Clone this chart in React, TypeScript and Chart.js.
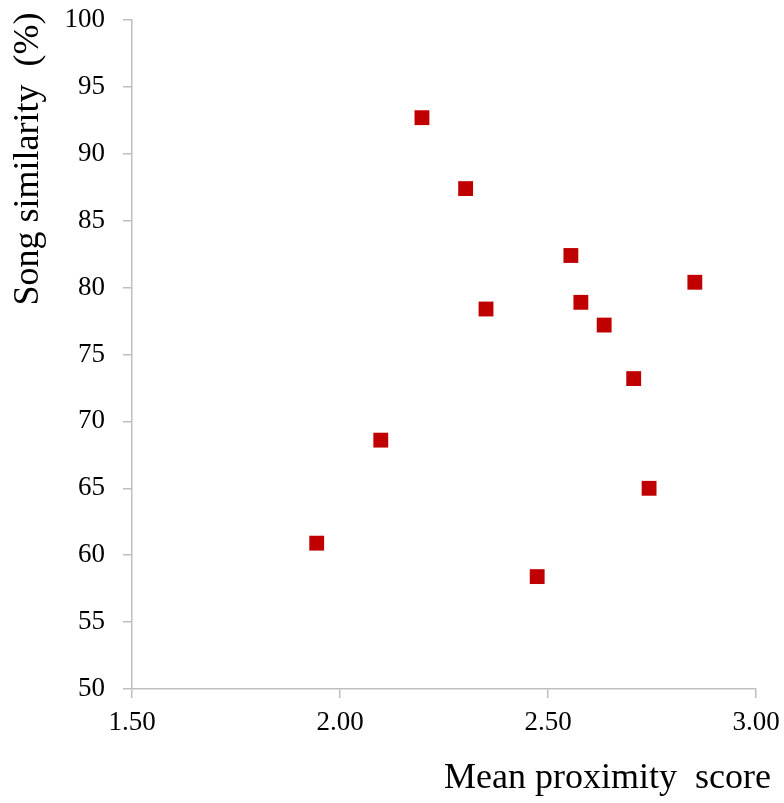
import React, { useEffect, useRef } from "react";
import { Chart, registerables } from "chart.js";

Chart.register(...registerables);

const proximityScores = [2.197, 2.302, 2.351, 2.555, 2.579, 2.635, 2.853, 2.706, 2.743, 2.098, 1.944, 2.474];
const songSimilarity = [92.7, 87.4, 78.4, 82.4, 78.9, 77.2, 80.4, 73.2, 65.0, 68.6, 60.9, 58.4];
const xTitle = "Mean proximity  score";
const yTitle = "Song similarity  (%)";

const FONT = "'Liberation Serif', 'Times New Roman', serif";

const titlesPlugin = {
  id: "customTitles",
  afterDraw(chart: any) {
    const ctx = chart.ctx;
    ctx.save();
    ctx.fillStyle = "#000";
    ctx.font = `36px ${FONT}`;
    ctx.textBaseline = "middle";
    ctx.textAlign = "right";
    ctx.fillText(xTitle, 771, 779);
    ctx.translate(29, 159);
    ctx.rotate(-Math.PI / 2);
    ctx.textAlign = "center";
    ctx.fillText(yTitle, 0, 0);
    ctx.restore();
  },
};

export default function App() {
  const ref = useRef<HTMLCanvasElement>(null);
  useEffect(() => {
    document.body.style.margin = "0";
    const data = proximityScores.map((x, i) => ({ x, y: songSimilarity[i] }));
    const chart = new Chart(ref.current!, {
      type: "scatter",
      data: {
        datasets: [
          {
            data,
            backgroundColor: "#C00000",
            borderColor: "#C00000",
            pointStyle: "rect",
            pointRadius: 10.5,
            pointHoverRadius: 10.5,
            borderWidth: 0,
          },
        ],
      },
      options: {
        animation: false,
        responsive: false,
        layout: { autoPadding: false, padding: { top: 20, right: 28, left: 0, bottom: 0 } },
        plugins: { legend: { display: false }, tooltip: { enabled: false } },
        scales: {
          x: {
            type: "linear",
            min: 1.5,
            max: 3.0,
            afterFit: (s: any) => {
              s.height = 803 - 689;
              s.paddingLeft = 0;
              s.paddingRight = 0;
            },
            ticks: {
              stepSize: 0.5,
              color: "#000",
              padding: 9,
              font: { family: FONT, size: 27 },
              callback: (v: any) => Number(v).toFixed(2),
            },
            grid: { drawOnChartArea: false, drawTicks: true, tickLength: 9, color: "#BFBFBF", lineWidth: 1.5 },
            border: { color: "#BFBFBF", width: 1.5 },
          },
          y: {
            type: "linear",
            min: 50,
            max: 100,
            afterFit: (s: any) => {
              s.width = 132;
              s.paddingTop = 0;
              s.paddingBottom = 0;
            },
            ticks: {
              stepSize: 5,
              color: "#000",
              padding: 18,
              font: { family: FONT, size: 27 },
            },
            grid: { drawOnChartArea: false, drawTicks: true, tickLength: 9, color: "#BFBFBF", lineWidth: 1.5 },
            border: { color: "#BFBFBF", width: 1.5 },
          },
        },
      },
      plugins: [titlesPlugin],
    });
    return () => chart.destroy();
  }, []);
  return (
    <div style={{ position: "absolute", left: 0, top: 0, width: 784, height: 803, background: "#fff" }}>
      <canvas ref={ref} width={784} height={803} style={{ display: "block" }} />
    </div>
  );
}
